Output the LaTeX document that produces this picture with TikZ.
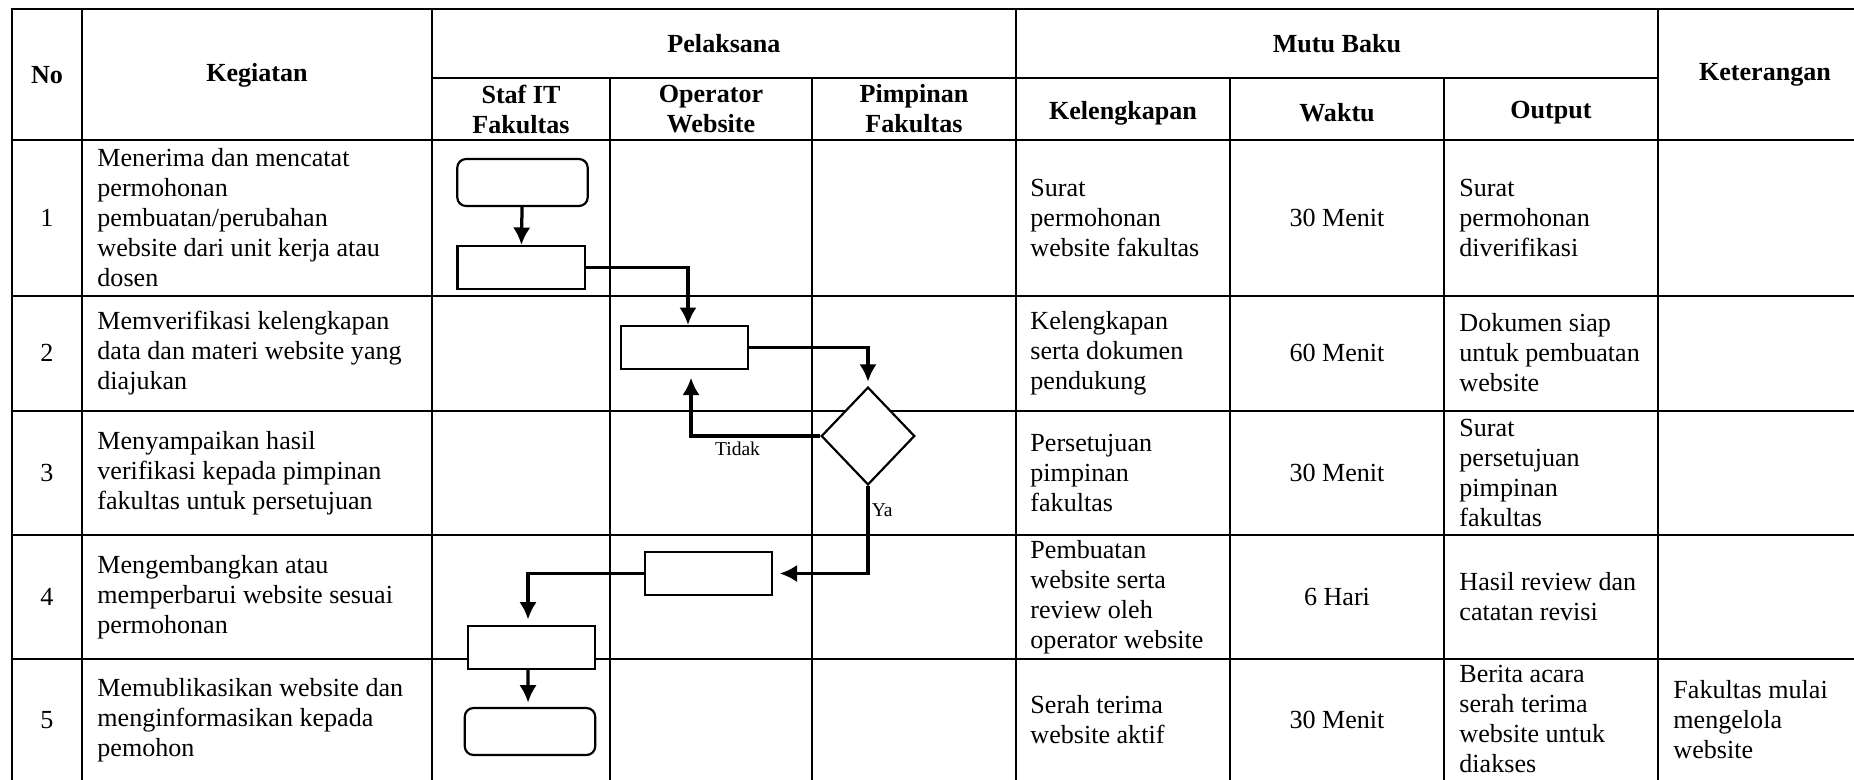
\documentclass[tikz,border=0pt]{standalone}
\usepackage{fontspec}
\setmainfont{Liberation Serif}
\usepackage{tikz}
\usetikzlibrary{shapes,arrows,arrows.meta}
\tikzstyle{teks} = [font=\fontsize{12}{13.8}\selectfont, inner sep=0pt]
\tikzstyle{kiri} = [teks, anchor=west, align=left]
\tikzstyle{tengah} = [teks, align=center]
\tikzstyle{judul} = [inner sep=0pt, align=center, font=\fontsize{12}{13.8}\selectfont\bfseries]
\tikzstyle{kecil} = [inner sep=1pt, font=\fontsize{9}{10}\selectfont]
\tikzstyle{proses} = [draw, fill=white, line width=1pt, minimum width=58.5pt, minimum height=19.8pt, inner sep=0pt]
\tikzstyle{terminal} = [proses, rounded corners=4pt, minimum width=60pt, minimum height=21.6pt]
\tikzstyle{keputusan} = [draw, fill=white, diamond, line width=1pt, minimum width=43pt, minimum height=45pt, inner sep=0pt]
\tikzstyle{alur} = [-{Latex[length=8pt, width=8pt]}, line width=1.5pt]
\tikzstyle{garis} = [line width=0.9pt]

\begin{document}
\begin{tikzpicture}[x=0.46pt, y=-0.46pt]
\useasboundingbox (0,0) rectangle (1854,779);
\clip (0,0) rectangle (1854,779);
\draw [garis] (12,9) rectangle (1872,785);
\draw [garis] (432,78) -- (1658,78);
\draw [garis] (12,140) -- (1872,140);
\draw [garis] (12,296) -- (1872,296);
\draw [garis] (12,411) -- (1872,411);
\draw [garis] (12,535) -- (1872,535);
\draw [garis] (12,659) -- (1872,659);
\draw [garis] (82,9) -- (82,785);
\draw [garis] (432,9) -- (432,785);
\draw [garis] (1016,9) -- (1016,785);
\draw [garis] (1658,9) -- (1658,785);
\draw [garis] (610,78) -- (610,785);
\draw [garis] (812,78) -- (812,785);
\draw [garis] (1230,78) -- (1230,785);
\draw [garis] (1444,78) -- (1444,785);

\node [judul] (hNo) at (47,75) {No};
\node [judul] (hKeg) at (257,75) {Kegiatan};
\node [judul] (hPel) at (724,44) {Pelaksana};
\node [judul] (hStaf) at (521,109) {Staf IT\\Fakultas};
\node [judul] (hOp) at (711,109) {Operator\\Website};
\node [judul] (hPim) at (914,109) {Pimpinan\\Fakultas};
\node [judul] (hMutu) at (1337,44) {Mutu Baku};
\node [judul] (hLeng) at (1123,113) {Kelengkapan};
\node [judul] (hWak) at (1337,113) {Waktu};
\node [judul] (hOut) at (1551,113) {Output};
\node [judul] (hKet) at (1765,75) {Keterangan};

\node [tengah] (no1) at (47,218) {1};
\node [kiri] (keg1) at (97,218) {Menerima dan mencatat\\permohonan\\pembuatan/perubahan\\website dari unit kerja atau\\dosen};
\node [kiri] (leng1) at (1030,218) {Surat\\permohonan\\website fakultas};
\node [tengah] (wak1) at (1337,218) {30 Menit};
\node [kiri] (out1) at (1459,218) {Surat\\permohonan\\diverifikasi};

\node [tengah] (no2) at (47,353) {2};
\node [kiri] (keg2) at (97,353) {Memverifikasi kelengkapan\\data dan materi website yang\\diajukan};
\node [kiri] (leng2) at (1030,353) {Kelengkapan\\serta dokumen\\pendukung};
\node [tengah] (wak2) at (1337,353) {60 Menit};
\node [kiri] (out2) at (1459,353) {Dokumen siap\\untuk pembuatan\\website};

\node [tengah] (no3) at (47,473) {3};
\node [kiri] (keg3) at (97,473) {Menyampaikan hasil\\verifikasi kepada pimpinan\\fakultas untuk persetujuan};
\node [kiri] (leng3) at (1030,473) {Persetujuan\\pimpinan\\fakultas};
\node [tengah] (wak3) at (1337,473) {30 Menit};
\node [kiri] (out3) at (1459,473) {Surat\\persetujuan\\pimpinan\\fakultas};

\node [tengah] (no4) at (47,597) {4};
\node [kiri] (keg4) at (97,597) {Mengembangkan atau\\memperbarui website sesuai\\permohonan};
\node [kiri] (leng4) at (1030,597) {Pembuatan\\website serta\\review oleh\\operator website};
\node [tengah] (wak4) at (1337,597) {6 Hari};
\node [kiri] (out4) at (1459,597) {Hasil review dan\\catatan revisi};

\node [tengah] (no5) at (47,720) {5};
\node [kiri] (keg5) at (97,720) {Memublikasikan website dan\\menginformasikan kepada\\pemohon};
\node [kiri] (leng5) at (1030,720) {Serah terima\\website aktif};
\node [tengah] (wak5) at (1337,720) {30 Menit};
\node [kiri] (out5) at (1459,719) {Berita acara\\serah terima\\website untuk\\diakses};
\node [kiri] (ket5) at (1673,720) {Fakultas mulai\\mengelola\\website};

\node [terminal] (mulai) at (522.5,182.5) {};
\node [proses] (catat) at (521,267.5) {};
\node [proses] (verif) at (684.5,347.5) {};
\node [keputusan] (putus) at (868,436) {};
\node [proses] (kembang) at (708.5,573.5) {};
\node [proses] (publik) at (531.5,647.5) {};
\node [terminal] (selesai) at (530,731.5) {};

\draw [alur] (mulai) -- (catat);
\draw [alur] (catat.east) -| ([xshift=1.6pt]verif.north);
\draw [alur, shorten >=2pt] (verif.east) -| (putus.north);
\draw [alur, shorten >=3.5pt] (putus.west) -| ([xshift=3pt]verif.south) node [kecil, below, pos=0.32, yshift=-1pt] {Tidak};
\draw [alur, shorten >=3pt] (putus.south) |- (kembang.east) node [kecil, right, pos=0.14] {Ya};
\draw [alur, shorten >=2.5pt] (kembang.west) -| ([xshift=-1.6pt]publik.north);
\draw [alur, shorten >=2pt] ([xshift=-1.6pt]publik.south) -- ([xshift=-0.9pt]selesai.north);
\end{tikzpicture}
\end{document}
